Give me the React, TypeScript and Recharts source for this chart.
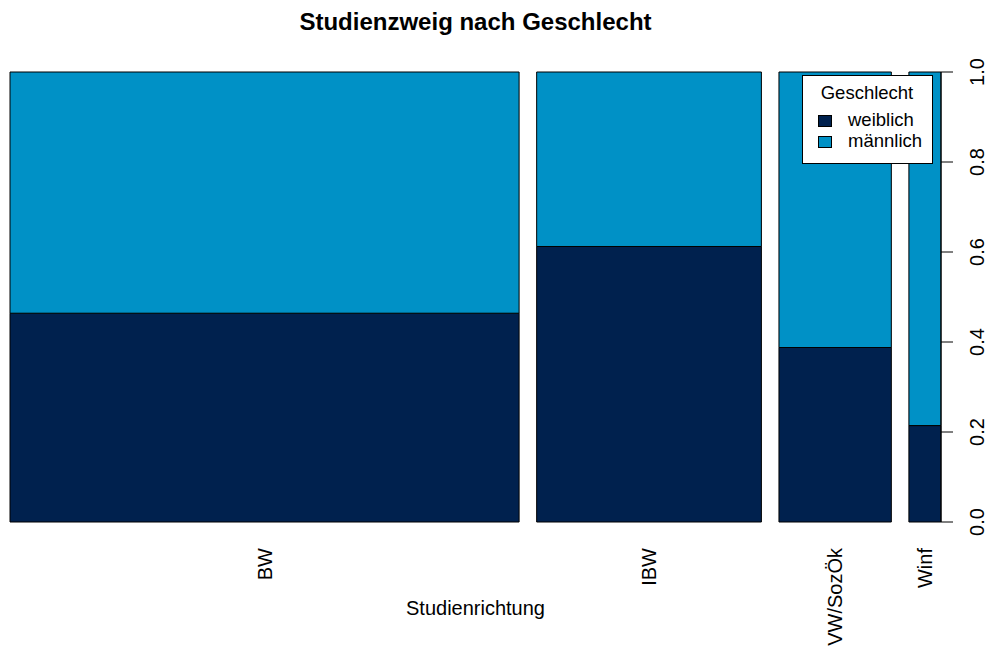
import { ComposedChart, XAxis, YAxis, ReferenceArea, Legend, Label } from "recharts";

const categories = ["BW", "IBW", "VW/SozÖk", "Winf"];
const weiblich = [103, 60, 19, 3];
const maennlich = [119, 38, 30, 11];
const yTicks = [0, 0.2, 0.4, 0.6, 0.8, 1];
const genderLabels = ["weiblich", "männlich"];
const genderColors = ["#00214e", "#0091c6"];

const FONT = "'Liberation Sans', Arial, Helvetica, sans-serif";
const OFF = 0.02; // gap between spines, like R's spineplot

const totals = categories.map((_, i) => weiblich[i] + maennlich[i]);
const grand = totals.reduce((a, b) => a + b, 0);
const xMax = 1 + OFF * (categories.length - 1);

// x-range of each spine in proportion units
const spans = (() => {
  let cum = 0;
  return totals.map((t, i) => {
    const x1 = cum + i * OFF;
    const x2 = x1 + t / grand;
    cum += t / grand;
    return { x1, x2, share: weiblich[i] / t };
  });
})();
const centers = spans.map((s) => (s.x1 + s.x2) / 2);

const CatTick = (props: any) => {
  const { x, y, index, payload } = props;
  let i = index;
  if (i == null) {
    i = centers.findIndex((c) => Math.abs(c - payload.value) < 1e-6);
  }
  const tx = x + 7;
  const ty = y + 26;
  return (
    <text x={tx} y={ty} transform={`rotate(-90, ${tx}, ${ty})`} textAnchor="end"
      fontSize={20} fontFamily={FONT} fill="#000">
      {categories[i]}
    </text>
  );
};

const PropTick = (props: any) => {
  const { x, y, payload } = props;
  const tx = x + 31;
  return (
    <text x={tx} y={y} transform={`rotate(-90, ${tx}, ${y})`} textAnchor="middle"
      fontSize={20} fontFamily={FONT} fill="#000">
      {Number(payload.value).toFixed(1)}
    </text>
  );
};

const renderLegend = () => (
  <svg width={132} height={90} style={{ display: "block" }}>
    <rect x={0.5} y={0.5} width={130} height={88} fill="#fff" stroke="#000" />
    <text x={65} y={24} textAnchor="middle" fontSize={18.5} fontFamily={FONT} fill="#000">
      Geschlecht
    </text>
    {genderLabels.map((g, i) => (
      <g key={g}>
        <rect x={16.5} y={40.5 + i * 21} width={13} height={11} fill={genderColors[i]} stroke="#000" />
        <text x={46} y={51 + i * 21} fontSize={18.5} fontFamily={FONT} fill="#000">
          {g}
        </text>
      </g>
    ))}
  </svg>
);

export default function App() {
  return (
    <div style={{ position: "absolute", left: 0, top: 0, width: 992, height: 650, background: "#fff" }}>
      <div style={{
        position: "absolute", left: 0, top: 10, width: 951, textAlign: "center",
        fontFamily: FONT, fontWeight: "bold", fontSize: 24, lineHeight: "24px", color: "#000",
      }}>
        Studienzweig nach Geschlecht
      </div>
      <ComposedChart width={992} height={650} margin={{ top: 72, right: 0, bottom: 0, left: 10 }}>
        <XAxis type="number" dataKey="x" domain={[0, xMax]} allowDataOverflow ticks={centers}
          interval={0} axisLine={false} tickLine={false} tickSize={0} tickMargin={0}
          height={128} tick={<CatTick />}>
          <Label content={(p: any) => {
            const vb = p.viewBox || { x: 10, width: 931 };
            return (
              <text x={vb.x + vb.width / 2} y={615} textAnchor="middle" fontSize={20}
                fontFamily={FONT} fill="#000">Studienrichtung</text>
            );
          }} />
        </XAxis>
        <YAxis type="number" orientation="right" domain={[0, 1]} allowDataOverflow ticks={yTicks}
          width={51} tickSize={12} tickMargin={0} axisLine={{ stroke: "#000" }}
          tickLine={{ stroke: "#000" }} tick={<PropTick />} />
        {spans.map((s, i) => (
          <ReferenceArea key={`w-${i}`} x1={s.x1} x2={s.x2} y1={0} y2={s.share}
            fill={genderColors[0]} fillOpacity={1} stroke="#000" strokeWidth={1} ifOverflow="visible" />
        ))}
        {spans.map((s, i) => (
          <ReferenceArea key={`m-${i}`} x1={s.x1} x2={s.x2} y1={s.share} y2={1}
            fill={genderColors[1]} fillOpacity={1} stroke="#000" strokeWidth={1} ifOverflow="visible" />
        ))}
        <Legend layout="horizontal" align="center" verticalAlign="middle" content={renderLegend}
          wrapperStyle={{ left: 802, top: 75, width: 132, height: 90 }} />
      </ComposedChart>
    </div>
  );
}
